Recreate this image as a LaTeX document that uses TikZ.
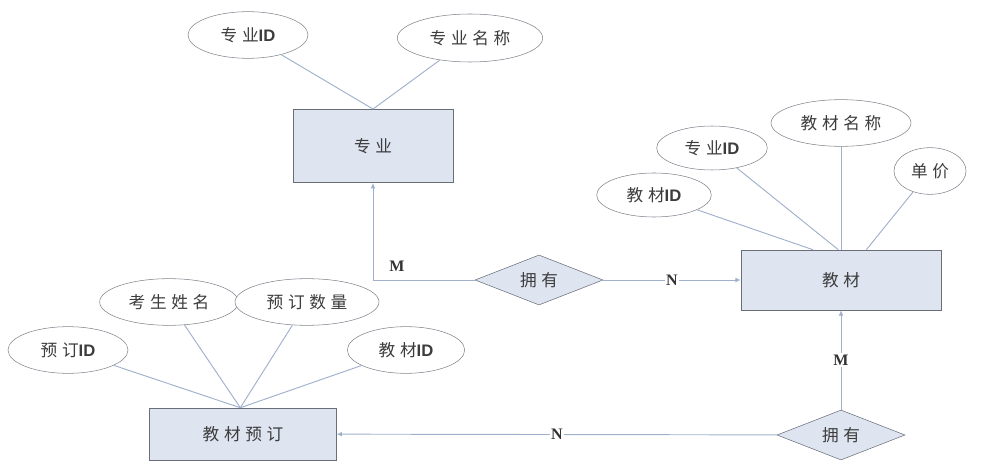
\documentclass[tikz,border=0pt]{standalone}
\usepackage{fontspec}
\newfontfamily\cjk[LetterSpace=28]{Noto Sans CJK SC}
\newfontfamily\idfont{Liberation Sans}
\newfontfamily\cardfont{Liberation Serif}
\newcommand{\ID}{{\idfont\bfseries ID}}
\usetikzlibrary{shapes.geometric, arrows.meta}
\definecolor{boxfill}{RGB}{222,228,240}
\definecolor{boxline}{RGB}{105,110,120}
\definecolor{linkline}{RGB}{160,176,204}
\definecolor{textgray}{RGB}{60,60,60}
\tikzset{
    entity/.style = {draw = boxline, fill = boxfill, text = textgray},
    attr/.style = {ellipse, draw = boxline!85, fill = white, text = textgray, inner sep = 0pt},
    rel/.style = {diamond, draw = boxline, fill = boxfill, text = textgray, aspect = 2.56, inner sep = 0pt, minimum width = 96pt, minimum height = 37.5pt},
    link/.style = {draw = linkline, line width = 0.7pt},
    card/.style = {font = \cardfont\bfseries\large, fill = white, text = black!80, inner sep = 1pt}
}
\begin{document}
\begin{tikzpicture}[x = 0.75pt, y = -0.75pt, font = \cjk\fontsize{12.5}{14}\selectfont]
        \useasboundingbox (0, 0) rectangle (984, 463);
        % entities
        \node [entity, minimum width = 120pt, minimum height = 55pt] (zhuanye) at (373, 146) {专业};
        \node [entity, minimum width = 150pt, minimum height = 45pt] (jiaocai) at (841, 280) {教材};
        \node [entity, minimum width = 140pt, minimum height = 39pt] (yuding) at (243, 434) {教材预订};
        % relations
        \node [rel] (yongyou) at (539, 280) {拥有};
        \node [rel] (yongyoub) at (841, 435) {拥有};
        % attributes
        \node [attr, minimum width = 90pt, minimum height = 35pt] (zyid) at (248, 35) {专业\ID};
        \node [attr, minimum width = 109pt, minimum height = 36pt] (zymc) at (470, 38) {专业名称};
        \node [attr, minimum width = 86pt, minimum height = 33pt] (jcid) at (654, 195) {教材\ID};
        \node [attr, minimum width = 83pt, minimum height = 33pt] (jczyid) at (712, 148) {专业\ID};
        \node [attr, minimum width = 105pt, minimum height = 35pt] (jcmc) at (841, 123) {教材名称};
        \node [attr, minimum width = 54pt, minimum height = 35pt] (dj) at (930, 171) {单价};
        \node [attr, minimum width = 90pt, minimum height = 35pt] (ydid) at (68, 350) {预订\ID};
        \node [attr, minimum width = 104pt, minimum height = 35pt] (ksxm) at (169, 302) {考生姓名};
        \node [attr, minimum width = 108pt, minimum height = 35pt] (ydsl) at (307, 302) {预订数量};
        \node [attr, minimum width = 88pt, minimum height = 35pt] (ydjcid) at (406, 350) {教材\ID};
        % attribute lines
        \draw [link] (zyid) -- (zhuanye.north);
        \draw [link] (zymc) -- (zhuanye.north);
        \draw [link] (jcid) -- ([xshift = -21pt] jiaocai.north);
        \draw [link] (jczyid) -- ([xshift = -2pt] jiaocai.north);
        \draw [link] (jcmc) -- (jiaocai.north);
        \draw [link] (dj) -- ([xshift = 19pt] jiaocai.north);
        \foreach \a in {ydid, ksxm, ydsl, ydjcid}
            \draw [link] (\a) -- ([xshift = -2pt] yuding.north);
        % relation lines
        \draw [link, -{Latex[length = 4pt, width = 3.5pt]}] (yongyou.west) -| node [card, pos = 0.5, above right, xshift = 11pt, yshift = 5pt] {M} (zhuanye.south);
        \draw [link, -{Latex[length = 4pt, width = 3.5pt]}] (yongyou) -- node [card] {N} (jiaocai);
        \draw [link, -{Latex[length = 4pt, width = 3.5pt]}] (yongyoub) -- node [card] {M} (jiaocai);
        \draw [link, -{Latex[length = 4pt, width = 3.5pt]}] (yongyoub) -- node [card] {N} (yuding);
    \end{tikzpicture}
\end{document}
